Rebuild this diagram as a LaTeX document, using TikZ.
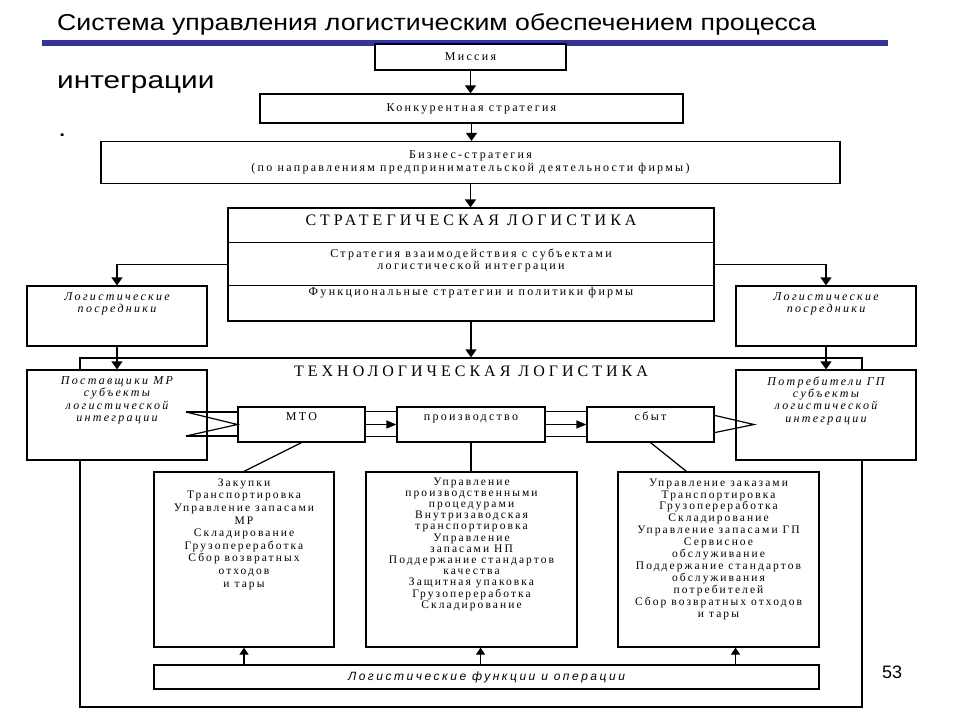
\documentclass[tikz,border=0pt]{standalone}
\usepackage{fontspec}
\setmainfont{Liberation Serif}
\newfontfamily\titlefont[FakeStretch=1.16]{Liberation Sans}
\newfontfamily\subtitlefont[FakeStretch=1.24]{Liberation Sans}
\newfontfamily\numfont{Liberation Sans}
\newfontfamily\boxfont[LetterSpace=19]{Liberation Serif}
\newfontfamily\listfont[LetterSpace=18]{Liberation Serif}
\newfontfamily\headfont[LetterSpace=25]{Liberation Serif}
\newfontfamily\funcfont[LetterSpace=21]{Liberation Sans}
\usetikzlibrary{calc,positioning,arrows.meta}
\definecolor{barblue}{RGB}{51,51,153}

\begin{document}
\begin{tikzpicture}[x=1pt, y=-1pt,
		box/.style={draw, fill=white, line width=1.2pt, inner sep=0pt},
		txt/.style={inner sep=0pt, align=center, font=\boxfont\fontsize{12}{12.8}\selectfont},
		ltxt/.style={inner sep=0pt, align=center, font=\listfont\fontsize{11.5}{12.6}\selectfont},
		htxt/.style={inner sep=0pt, font=\headfont\fontsize{16}{18}\selectfont},
		itxt/.style={inner sep=0pt, align=center, font=\boxfont\itshape\fontsize{12}{12.3}\selectfont},
		arr/.style={line width=1.2pt, -{Triangle[width=11pt,length=8pt]}},
		sarr/.style={line width=1.2pt, -{Triangle[width=8pt,length=10pt]}},
		uarr/.style={line width=1.2pt, -{Triangle[width=9pt,length=7pt]}},
		ln/.style={line width=1.2pt}]
			%%%%% START %%%%%
			\useasboundingbox (0,0) rectangle (960,720);
			
			\fill[barblue] (42,40) rectangle (888,46);
			\node[anchor=base west, inner sep=0pt, font=\titlefont\fontsize{23}{26}\selectfont] (title) at (57,30) {Система управления логистическим обеспечением процесса};
			\node[anchor=base west, inner sep=0pt, font=\subtitlefont\fontsize{24}{26}\selectfont] (title2) at (57,88) {интеграции};
			\node[anchor=base west, inner sep=0pt, font=\subtitlefont\fontsize{24}{26}\selectfont] (dot) at (58,136) {.};
			
			\node[box, txt, minimum width=191pt, minimum height=26pt] (mis) at (470.5,57) {Миссия};
			\node[box, txt, minimum width=423pt, minimum height=29pt] (konk) at (471.5,108.5) {Конкурентная стратегия};
			\node[box, txt, minimum width=739pt, minimum height=42pt] (biz) at (470.5,162.5) {Бизнес-стратегия\\(по направлениям предпринимательской деятельности фирмы)};
			
			\draw[arr] (mis.south) -- (mis.south |- konk.north);
			\draw[arr] (konk.south) -- (konk.south |- biz.north);
			
			% strategic block
			\node[box, minimum width=486pt, minimum height=113pt] (strat) at (471,264.5) {};
			\draw[arr] (biz.south) -- (biz.south |- strat.north);
			\draw[ln] ([yshift=-35pt]strat.north west) -- ([yshift=-35pt]strat.north east);
			\draw[ln] ([yshift=-78pt]strat.north west) -- ([yshift=-78pt]strat.north east);
			\node[htxt, below=7pt of strat.north] (stratT) {СТРАТЕГИЧЕСКАЯ ЛОГИСТИКА};
			\node[txt, below=41pt of strat.north] (stratA) {Стратегия взаимодействия с субъектами\\логистической интеграции};
			\node[txt, below=80pt of strat.north] (stratB) {Функциональные стратегии и политики фирмы};
			
			% technological frame
			\node[box, fill=none, minimum width=782pt, minimum height=349pt] (tech) at (471,532.5) {};
			\draw[arr] (strat.south) -- (strat.south |- tech.north);
			\node[htxt, below=8pt of tech.north] (techT) {ТЕХНОЛОГИЧЕСКАЯ ЛОГИСТИКА};
			
			\node[box, minimum width=180pt, minimum height=60pt] (posrL) at (117,316) {};
			\node[itxt, below=7pt of posrL.north] (posrLT) {Логистические\\посредники};
			\node[box, minimum width=180pt, minimum height=60pt] (posrR) at (826,316) {};
			\node[itxt, below=7pt of posrR.north] (posrRT) {Логистические\\посредники};
			\draw[arr] (strat.west) -| (posrL.north);
			\draw[arr] (strat.east) -| (posrR.north);
			
			\node[box, minimum width=180pt, minimum height=90pt] (post) at (117,415) {};
			\node[itxt, below=7pt of post.north] (postT) {Поставщики МР\\субъекты\\логистической\\интеграции};
			\node[box, minimum width=180pt, minimum height=90pt] (potr) at (826,415) {};
			\node[itxt, below=7pt of potr.north] (potrT) {Потребители ГП\\субъекты\\логистической\\интеграции};
			\draw[arr] (posrL.south) -- (post.north);
			\draw[arr] (posrR.south) -- (potr.north);
			
			% flow: MTO - production - sales
			\node[box, minimum width=127pt, minimum height=35pt] (mto) at (301.5,424.5) {};
			\node[txt, anchor=base] (mtoT) at ([yshift=-14pt]mto.north) {МТО};
			\node[box, minimum width=148pt, minimum height=35pt] (prod) at (471,424.5) {};
			\node[txt, anchor=base] (prodT) at ([yshift=-14pt]prod.north) {производство};
			\node[box, minimum width=127pt, minimum height=35pt] (sbyt) at (650.5,424.5) {};
			\node[txt, anchor=base] (sbytT) at ([yshift=-14pt]sbyt.north) {сбыт};
			
			\draw[ln] ([yshift=-5pt]mto.north east) -- ([yshift=-5pt]prod.north west);
			\draw[ln] ([yshift=6pt]mto.south east) -- ([yshift=6pt]prod.south west);
			\draw[sarr] (mto.east) -- (prod.west);
			\draw[ln] ([yshift=-5pt]prod.north east) -- ([yshift=-5pt]sbyt.north west);
			\draw[ln] ([yshift=6pt]prod.south east) -- ([yshift=6pt]sbyt.south west);
			\draw[sarr] (prod.east) -- (sbyt.west);
			
			\coordinate (wA) at (186,412);
			\coordinate (wB) at (186,436);
			\draw[ln] (wA) -- (wA -| mto.west);
			\draw[ln] (wB) -- (wB -| mto.west);
			\draw[ln] (wA) -- (mto.west) -- (wB);
			
			\coordinate (tip) at (754,424.5);
			\draw[ln] ([yshift=-9pt]sbyt.north east) -- (tip) -- ([yshift=10pt]sbyt.south east);
			
			% functions
			\node[box, minimum width=180pt, minimum height=175pt] (zak) at (244,559.5) {};
			\node[ltxt, below=7pt of zak.north] (zakT) {Закупки\\Транспортировка\\Управление запасами\\МР\\Складирование\\Грузопереработка\\Сбор возвратных\\отходов\\и тары};
			\node[box, minimum width=211pt, minimum height=175pt] (upr) at (471.5,559.5) {};
			\node[ltxt, font=\listfont\fontsize{11.5}{11.2}\selectfont, below=6pt of upr.north] (uprT) {Управление\\производственными\\процедурами\\Внутризаводская\\транспортировка\\Управление\\запасами НП\\Поддержание стандартов\\качества\\Защитная упаковка\\Грузопереработка\\Складирование};
			\node[box, minimum width=201pt, minimum height=175pt] (zkz) at (718.5,559.5) {};
			\node[ltxt, font=\listfont\fontsize{11.5}{11.9}\selectfont, below=7pt of zkz.north] (zkzT) {Управление заказами\\Транспортировка\\Грузопереработка\\Складирование\\Управление запасами ГП\\Сервисное\\обслуживание\\Поддержание стандартов\\обслуживания\\потребителей\\Сбор возвратных отходов\\и тары};
			
			\draw[ln] (mto.south) -- (zak.north);
			\draw[ln] (prod.south) -- (prod.south |- upr.north);
			\draw[ln] (sbyt.south) -- ([xshift=-32pt]zkz.north);
			
			\node[box, minimum width=665pt, minimum height=24pt, font=\funcfont\itshape\fontsize{12}{13}\selectfont] (fun) at (486.5,677) {Логистические функции и операции};
			\coordinate (fA) at (zak.south);
			\coordinate (fB) at ([xshift=9pt]upr.south);
			\coordinate (fC) at ([xshift=17pt]zkz.south);
			\draw[uarr] (fA |- fun.north) -- (fA);
			\draw[uarr] (fB |- fun.north) -- (fB);
			\draw[uarr] (fC |- fun.north) -- (fC);
			
			\node[font=\numfont\fontsize{18}{20}\selectfont, inner sep=0pt] (pnum) at (892,672) {53};
			%%%%% END %%%%%
		\end{tikzpicture}
\end{document}
